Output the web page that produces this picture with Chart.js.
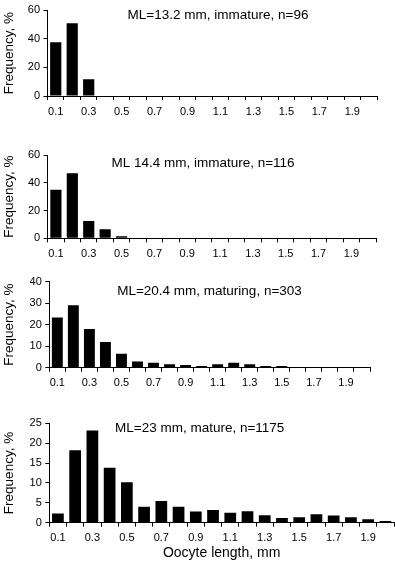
<!DOCTYPE html>
<html>
<head>
<meta charset="utf-8">
<script src="https://cdn.jsdelivr.net/npm/chart.js@4"></script>
<style>
    html, body { margin: 0; padding: 0; background: #fff; }
    #wrap { position: relative; width: 395px; height: 562px; overflow: hidden; }
    #wrap canvas { position: absolute; left: 0; }
</style>
</head>
<body>
<div id="wrap">
    <canvas id="panel1" width="395" height="125" style="top:0px"></canvas>
    <canvas id="panel2" width="395" height="124" style="top:140px"></canvas>
    <canvas id="panel3" width="395" height="123" style="top:270px"></canvas>
    <canvas id="panel4" width="395" height="152" style="top:410px"></canvas>
</div>
<script>
// oocyte length classes, mm
const lengthClasses = ['0.1', '0.2', '0.3', '0.4', '0.5', '0.6', '0.7', '0.8', '0.9', '1.0',
                       '1.1', '1.2', '1.3', '1.4', '1.5', '1.6', '1.7', '1.8', '1.9', '2.0'];

// frequency, %
const freqImmature13 = [37.6, 50.9, 11.7, 0, 0, 0, 0, 0, 0, 0, 0, 0, 0, 0, 0, 0, 0, 0, 0, 0];
const freqImmature14 = [34.9, 46.9, 12.5, 6.5, 1.4, 0, 0, 0, 0, 0, 0, 0, 0, 0, 0, 0, 0, 0, 0, 0];
const freqMaturing20 = [23.4, 29, 18, 11.9, 6.5, 2.9, 2.3, 1.55, 1.2, 0.8, 1.55, 2.3, 1.55, 0.8, 0.8, 0, 0, 0, 0, 0];
const freqMature23 = [2.3, 18.2, 23.2, 13.8, 10.2, 4.0, 5.45, 4.0, 2.8, 3.2, 2.5, 2.9, 1.9, 1.2, 1.4, 2.1, 1.8, 1.4, 0.85, 0.4];

const panelTitles = ['ML=13.2 mm, immature, n=96', 'ML 14.4 mm, immature, n=116',
                     'ML=20.4 mm, maturing, n=303', 'ML=23 mm, mature, n=1175'];
const yMax = [60, 60, 40, 25];
const yStep = [20, 20, 10, 5];

const FONT = '"Liberation Sans", Arial, Helvetica, sans-serif';

// draws the sample caption inside the plot
const captionPlugin = {
    id: 'caption',
    afterDraw(chart, args, opts) {
        const ctx = chart.ctx;
        ctx.save();
        ctx.fillStyle = '#000';
        ctx.font = '13.5px ' + FONT;
        ctx.textAlign = 'center';
        ctx.textBaseline = 'middle';
        ctx.fillText(opts.text, opts.x, opts.y);
        ctx.restore();
    }
};

function makePanel(id, data, idx, cfg) {
    const ctx = document.getElementById(id);
    return new Chart(ctx, {
        type: 'bar',
        data: {
            labels: lengthClasses,
            datasets: [{
                data: data,
                backgroundColor: '#000',
                borderWidth: 0,
                barPercentage: 1,
                categoryPercentage: 0.68
            }]
        },
        plugins: [captionPlugin],
        options: {
            responsive: false,
            animation: false,
            layout: {
                padding: { top: cfg.padTop, right: 395 - cfg.right, bottom: 0, left: 0 }
            },
            plugins: {
                legend: { display: false },
                tooltip: { enabled: false },
                caption: { text: panelTitles[idx], x: cfg.capX, y: cfg.capY }
            },
            scales: {
                x: {
                    afterFit: (scale) => { scale.height = cfg.xh; },
                    grid: {
                        offset: true,
                        drawOnChartArea: false,
                        drawTicks: true,
                        tickLength: 4,
                        color: '#000'
                    },
                    border: { display: true, color: '#000', width: 1 },
                    ticks: {
                        autoSkip: false,
                        maxRotation: 0,
                        padding: 5,
                        color: '#000',
                        font: { family: FONT, size: 11 },
                        callback: (v, i) => (i % 2 === 0 ? lengthClasses[i] : '')
                    },
                    title: {
                        display: !!cfg.xTitle,
                        text: cfg.xTitle || '',
                        color: '#000',
                        padding: 0,
                        font: { family: FONT, size: 14 }
                    }
                },
                y: {
                    min: 0,
                    max: yMax[idx],
                    afterFit: (scale) => { scale.width = cfg.left; },
                    grid: {
                        drawOnChartArea: false,
                        drawTicks: true,
                        tickLength: 4,
                        color: '#000'
                    },
                    border: { display: true, color: '#000', width: 1 },
                    ticks: {
                        stepSize: yStep[idx],
                        padding: 3.5,
                        color: '#000',
                        font: { family: FONT, size: 11 }
                    },
                    title: {
                        display: true,
                        text: 'Frequency, %',
                        color: '#000',
                        padding: { top: 1, bottom: 0 },
                        font: { family: FONT, size: 13.5 }
                    }
                }
            }
        }
    });
}

makePanel('panel1', freqImmature13, 0, { padTop: 7.3, left: 47.5, right: 377, xh: 29, capX: 218, capY: 15 });
makePanel('panel2', freqImmature14, 1, { padTop: 15, left: 47.7, right: 376, xh: 25.7, capX: 203, capY: 23.3 });
makePanel('panel3', freqMaturing20, 2, { padTop: 11.7, left: 49.3, right: 370, xh: 25.3, capX: 209.5, capY: 21.7 });
makePanel('panel4', freqMature23, 3, { padTop: 13.3, left: 49.3, right: 394, xh: 39.3, capX: 199.7, capY: 18.3, xTitle: 'Oocyte length, mm' });
</script>
</body>
</html>
